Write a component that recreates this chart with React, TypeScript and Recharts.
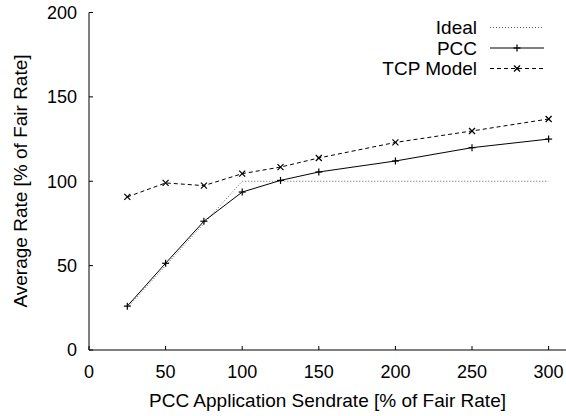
import { LineChart, Line, XAxis, YAxis, Legend, Label } from 'recharts';

const sendrate = [25, 50, 75, 100, 125, 150, 200, 250, 300];
const ideal = [25, 50, 75, 100, 100, 100, 100, 100, 100];
const pcc = [26, 51.4, 76.3, 93.6, 100.5, 105.5, 112, 119.9, 125];
const tcpModel = [90.7, 99, 97.4, 104.5, 108.4, 113.8, 123, 129.8, 136.9];

const xTicks = [0, 50, 100, 150, 200, 250, 300];
const yTicks = [0, 50, 100, 150, 200];

const data = sendrate.map((x, i) => ({
  x,
  ideal: ideal[i],
  pcc: pcc[i],
  tcp: tcpModel[i],
}));

const FONT = '"Liberation Sans", Arial, Helvetica, sans-serif';

// gnuplot style point markers
const Plus = ({ cx, cy }: any) => {
  if (cx == null || cy == null) return null;
  return (
    <g stroke="#000" strokeWidth={1.2}>
      <line x1={cx - 3.5} y1={cy} x2={cx + 3.5} y2={cy} />
      <line x1={cx} y1={cy - 3.5} x2={cx} y2={cy + 3.5} />
    </g>
  );
};

const Cross = ({ cx, cy }: any) => {
  if (cx == null || cy == null) return null;
  return (
    <g stroke="#000" strokeWidth={1.2}>
      <line x1={cx - 3} y1={cy - 3} x2={cx + 3} y2={cy + 3} />
      <line x1={cx - 3} y1={cy + 3} x2={cx + 3} y2={cy - 3} />
    </g>
  );
};

const MARKERS: Record<string, any> = { PCC: Plus, 'TCP Model': Cross };

const KeyBox = ({ payload }: any) => (
  <svg width={566} height={80} style={{ display: 'block' }}>
    {(payload || []).map((entry: any, i: number) => {
      const y = 27.5 + i * 20.5;
      const Marker = MARKERS[entry.value];
      return (
        <g key={entry.value}>
          <text
            x={477}
            y={y}
            textAnchor="end"
            dominantBaseline="central"
            fontFamily={FONT}
            fontSize={19}
            fill="#000"
          >
            {entry.value}
          </text>
          <line
            x1={490}
            y1={y}
            x2={544}
            y2={y}
            stroke={entry.color}
            strokeWidth={entry.value === 'Ideal' ? 0.8 : 1}
            strokeDasharray={entry.payload?.strokeDasharray}
          />
          {Marker && <Marker cx={517} cy={y} />}
        </g>
      );
    })}
  </svg>
);

export default function App() {
  return (
    <div style={{ position: 'absolute', left: 0, top: 0, width: 566, height: 416, overflow: 'hidden', background: '#fff' }}>
      <LineChart
        width={570}
        height={416}
        data={data}
        margin={{ top: 12.5, right: 3, left: 0, bottom: 0 }}
        style={{ fontFamily: FONT }}
      >
        <XAxis
          dataKey="x"
          type="number"
          domain={[0, 312]}
          ticks={xTicks}
          height={66}
          stroke="#000"
          tickSize={-4}
          tickMargin={19}
          tick={{ fill: '#000', fontSize: 18, fontFamily: FONT }}
        >
          <Label
            content={() => (
              <text x={327.5} y={406.5} textAnchor="middle" fontFamily={FONT} fontSize={19} fill="#000">
                PCC Application Sendrate [% of Fair Rate]
              </text>
            )}
          />
        </XAxis>
        <XAxis
          xAxisId="top"
          dataKey="x"
          type="number"
          orientation="top"
          domain={[0, 312]}
          ticks={xTicks}
          height={0}
          stroke="#000"
          tickSize={-4}
          tick={false}
        />
        <YAxis
          type="number"
          domain={[0, 200]}
          ticks={yTicks}
          width={89}
          stroke="#000"
          tickSize={-4}
          tickMargin={16}
          tick={{ fill: '#000', fontSize: 18, fontFamily: FONT }}
        >
          <Label
            content={() => (
              <text
                x={0}
                y={0}
                transform="translate(27 181) rotate(-90)"
                textAnchor="middle"
                fontFamily={FONT}
                fontSize={19}
                fill="#000"
              >
                Average Rate [% of Fair Rate]
              </text>
            )}
          />
        </YAxis>
        <YAxis
          yAxisId="right"
          type="number"
          orientation="right"
          domain={[0, 200]}
          ticks={yTicks}
          width={0}
          stroke="#000"
          tickSize={-4}
          tick={false}
        />
        <Legend
          layout="vertical"
          verticalAlign="middle"
          align="center"
          content={<KeyBox />}
          wrapperStyle={{ position: 'absolute', left: 0, top: 0, width: 566, height: 80 }}
        />
        <Line
          name="Ideal"
          dataKey="ideal"
          stroke="#333"
          strokeWidth={0.8}
          strokeDasharray="1 2"
          dot={false}
          isAnimationActive={false}
        />
        <Line
          name="PCC"
          dataKey="pcc"
          stroke="#000"
          strokeWidth={1}
          dot={<Plus />}
          activeDot={false}
          isAnimationActive={false}
        />
        <Line
          name="TCP Model"
          dataKey="tcp"
          stroke="#000"
          strokeWidth={1}
          strokeDasharray="4 3"
          dot={<Cross />}
          activeDot={false}
          isAnimationActive={false}
        />
      </LineChart>
    </div>
  );
}
